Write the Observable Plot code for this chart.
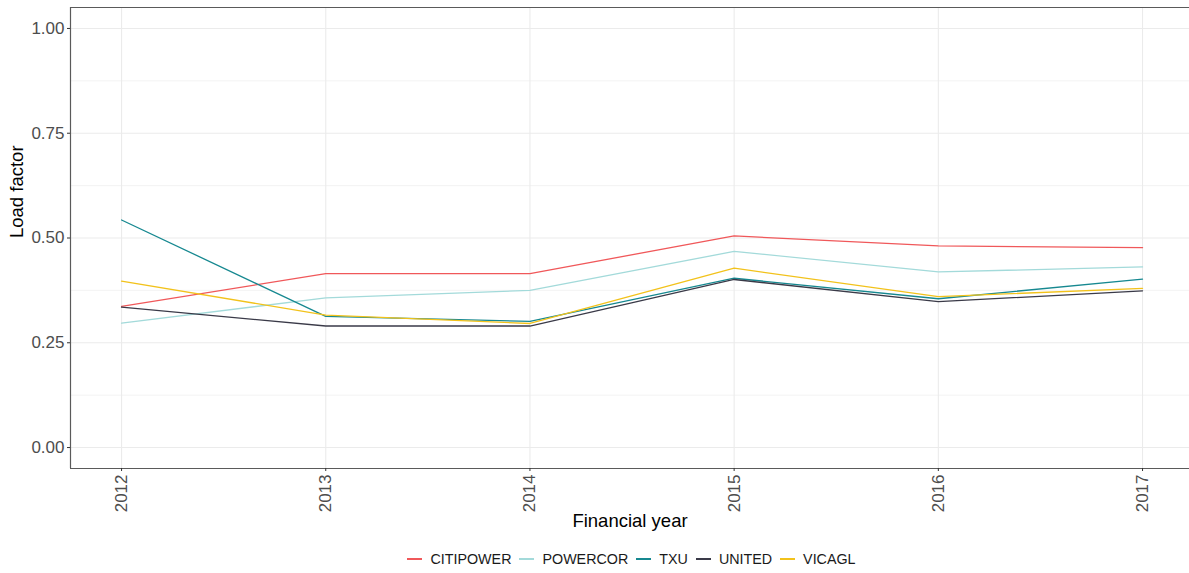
<!DOCTYPE html>
<html>
<head>
<meta charset="utf-8">
<script src="https://cdn.jsdelivr.net/npm/d3@7"></script>
<script src="https://cdn.jsdelivr.net/npm/@observablehq/plot@0.6"></script>
<style>
  html, body { margin: 0; padding: 0; background: #fff; }
  #chart { width: 1189px; }
  .legend { display: flex; justify-content: center; align-items: center; height: 28px; padding-left: 82px; width: 1107px;
    font-family: "Liberation Sans", Arial, sans-serif; font-size: 14.3px; color: #1a1a1a; }
  .legend .item { display: flex; align-items: center; margin-right: 8px; }
  .legend .key { display: inline-block; width: 15px; height: 1.4px; margin-right: 8px; }
</style>
</head>
<body>
<div id="chart"></div>
<script>
const years = [2012, 2013, 2014, 2015, 2016, 2017];
const series = ["CITIPOWER", "POWERCOR", "TXU", "UNITED", "VICAGL"];
const colors = ["#f0585a", "#a3dada", "#168890", "#3a3a48", "#f2c21b"];
const citipower = [0.337, 0.415, 0.415, 0.505, 0.481, 0.477];
const powercor  = [0.297, 0.357, 0.375, 0.468, 0.419, 0.431];
const txu       = [0.543, 0.313, 0.301, 0.404, 0.355, 0.402];
const united    = [0.335, 0.290, 0.290, 0.401, 0.348, 0.374];
const vicagl    = [0.397, 0.316, 0.296, 0.428, 0.360, 0.380];
const yMajor = [0, 0.25, 0.5, 0.75, 1];
const yMinor = [0.125, 0.375, 0.625, 0.875];

const valuesBySeries = [citipower, powercor, txu, united, vicagl];
const data = series.flatMap((s, i) => years.map((yr, j) => ({series: s, year: yr, value: valuesBySeries[i][j]})));

const font = '"Liberation Sans", Arial, sans-serif';

const plot = Plot.plot({
  width: 1189,
  height: 545,
  marginLeft: 70,
  marginRight: 0,
  marginTop: 7,
  marginBottom: 77,
  style: {fontFamily: font, background: "#fff"},
  x: {type: "linear", domain: [2011.75, 2017.23]},
  y: {domain: [-0.05, 1.05]},
  color: {domain: series, range: colors},
  marks: [
    Plot.gridY(yMinor, {stroke: "#ebebeb", strokeOpacity: 1, strokeWidth: 0.6}),
    Plot.gridY(yMajor, {stroke: "#ebebeb", strokeOpacity: 1, strokeWidth: 1.1}),
    Plot.gridX(years, {stroke: "#ebebeb", strokeOpacity: 1, strokeWidth: 1.1}),
    Plot.line(data, {x: "year", y: "value", z: "series", stroke: "series", strokeWidth: 1.3}),
    Plot.ruleY([-0.05, 1.05], {stroke: "#5a5a5a", strokeWidth: 1.2}),
    Plot.ruleX([2011.75], {stroke: "#5a5a5a", strokeWidth: 1.2}),
    Plot.axisY({ticks: yMajor, tickFormat: d3.format(".2f"), tickSize: 3, tickPadding: 3,
      fontSize: 17, color: "#4d4d4d", stroke: "#333", label: null}),
    Plot.axisX({ticks: years, tickFormat: d => String(d), tickSize: 3, tickPadding: 3,
      tickRotate: -90, fontSize: 17, color: "#4d4d4d", stroke: "#333", label: null}),
    Plot.text(["Load factor"], {frameAnchor: "left", dx: -53, rotate: -90, fontSize: 18.5, fill: "#000"}),
    Plot.text(["Financial year"], {frameAnchor: "bottom", dy: 58, fontSize: 18.5, fill: "#000"})
  ]
});
document.getElementById("chart").appendChild(plot);

const legend = document.createElement("div");
legend.className = "legend";
series.forEach((s, i) => {
  const item = document.createElement("div");
  item.className = "item";
  const key = document.createElement("span");
  key.className = "key";
  key.style.backgroundColor = colors[i];
  const label = document.createElement("span");
  label.textContent = s;
  item.appendChild(key);
  item.appendChild(label);
  legend.appendChild(item);
});
document.body.appendChild(legend);
</script>
</body>
</html>
